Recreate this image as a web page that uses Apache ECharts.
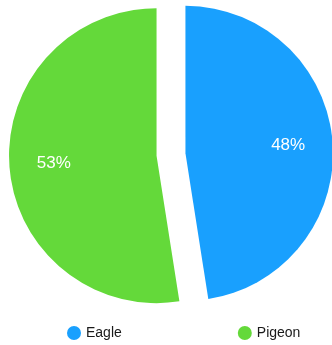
<!DOCTYPE html>
<html>
<head>
<meta charset="utf-8">
<script src="https://cdn.jsdelivr.net/npm/echarts@6/dist/echarts.min.js"></script>
<style>html,body{margin:0;padding:0;background:#fff;}#c{width:332px;height:345px;}</style>
</head>
<body>
<div id="c"></div>
<script>
const categories = ['Eagle', 'Pigeon'];
const values = [48, 53];
const colors = ['#19a0fe', '#64d93a'];

const chart = echarts.init(document.getElementById('c'), null, {renderer: 'canvas'});
const sliceData = categories.map((n, i) => ({name: n, value: values[i], selected: true, itemStyle: {color: colors[i]}}));
const labelData = categories.map((n, i) => ({name: n, value: values[i], selected: true}));
chart.setOption({
  animation: false,
  legend: {
    data: categories,
    left: 62, top: 321,
    icon: 'circle',
    itemWidth: 14, itemHeight: 14,
    itemGap: 116,
    textStyle: {fontSize: 14, color: '#1a1a1a', fontFamily: 'Liberation Sans, Arial, sans-serif'}
  },
  series: [
    {
      type: 'pie',
      center: [171, 154.5],
      radius: [0, 147.5],
      startAngle: 90,
      clockwise: true,
      selectedMode: 'multiple',
      selectedOffset: 14.5,
      emphasis: {disabled: true},
      label: {show: false},
      labelLine: {show: false},
      data: sliceData
    },
    {
      type: 'pie',
      center: [171, 154.5],
      radius: [52.5, 147.5],
      startAngle: 90,
      clockwise: true,
      selectedMode: 'multiple',
      selectedOffset: 14.5,
      silent: true,
      emphasis: {disabled: true},
      itemStyle: {color: 'rgba(0,0,0,0)'},
      label: {
        show: true, position: 'inside',
        formatter: '{c}%',
        color: '#ffffff', fontSize: 17,
        padding: [4, 0, 0, 0],
        fontFamily: 'Liberation Sans, Arial, sans-serif'
      },
      labelLine: {show: false},
      data: labelData
    }
  ]
});
</script>
</body>
</html>
